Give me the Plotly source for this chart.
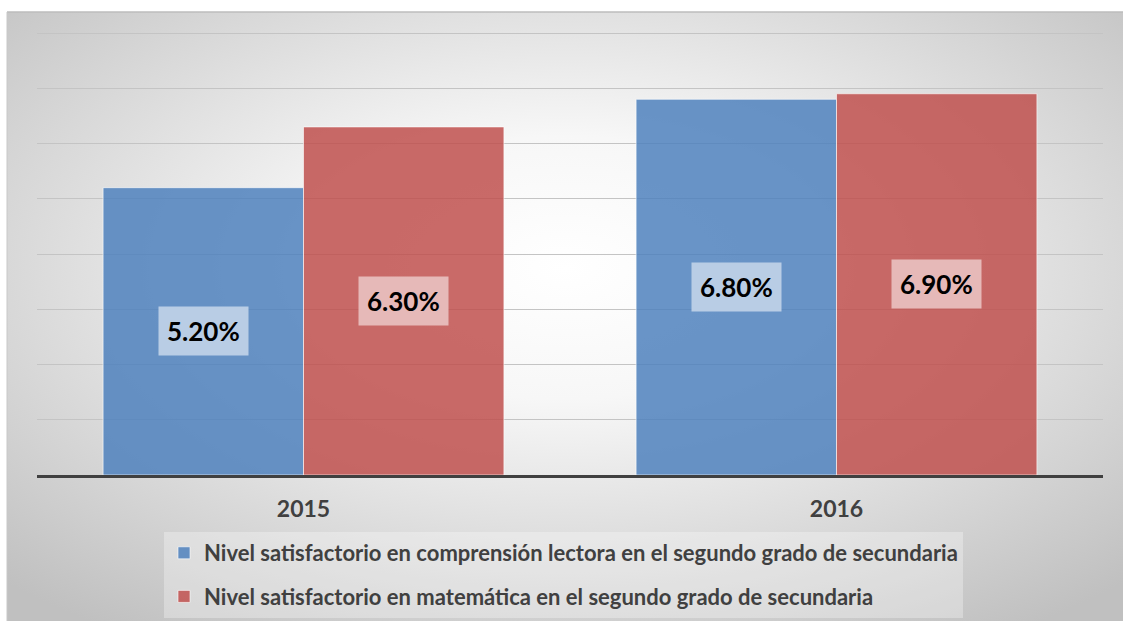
import base64
import plotly.graph_objects as go

# ---- data ----
years = ["2015", "2016"]
series_names = [
    "Nivel satisfactorio en comprensión lectora en el segundo grado de secundaria",
    "Nivel satisfactorio en matemática en el segundo grado de secundaria",
]
lectora = [5.2, 6.8]
matematica = [6.3, 6.9]
label_lectora = ["5.20%", "6.80%"]
label_matematica = ["6.30%", "6.90%"]

# ---- styling ----
W, H = 1123, 621
FONT = "Lato"
BLUE = "rgba(79,129,189,0.85)"
RED = "rgba(192,80,77,0.85)"
BLUE_LBL = "#B9CDE5"
RED_LBL = "#E6B9B8"

Y_MAX = 8.03
x_dom = [37 / W, 1103 / W]
y_dom = [(H - 475) / H, (H - 33 + 0.03 * 55.25) / H]
BARGAP = 0.248

# radial gradient background (chart area)
svg = (
    '<svg xmlns="http://www.w3.org/2000/svg" width="1116" height="609" '
    'viewBox="0 0 100 100" preserveAspectRatio="none">'
    '<defs><radialGradient id="g" cx="0.5" cy="0.42" r="0.72" fx="0.5" fy="0.42">'
    '<stop offset="0" stop-color="#ffffff"/>'
    '<stop offset="0.3" stop-color="#f7f7f7"/>'
    '<stop offset="1" stop-color="#c0c0c0"/>'
    '</radialGradient></defs>'
    '<rect x="0" y="0" width="100" height="100" fill="url(#g)"/></svg>'
)
svg_uri = "data:image/svg+xml;base64," + base64.b64encode(svg.encode()).decode()

fig = go.Figure()
fig.add_trace(go.Bar(
    x=years, y=lectora, name=series_names[0],
    marker=dict(color=BLUE, line=dict(color="rgba(255,255,255,0.6)", width=1)),
    legendgroup="a", hoverinfo="skip",
))
fig.add_trace(go.Bar(
    x=years, y=matematica, name=series_names[1],
    marker=dict(color=RED, line=dict(color="rgba(255,255,255,0.6)", width=1)),
    legendgroup="b", hoverinfo="skip",
))

# data labels with background boxes (x given as category index)
cat_px = (x_dom[1] - x_dom[0]) * W / len(years)
bar_px = cat_px * (1 - BARGAP) / 2
for vals, labels, bg, sign in [(lectora, label_lectora, BLUE_LBL, -1),
                               (matematica, label_matematica, RED_LBL, 1)]:
    for i, (v, t) in enumerate(zip(vals, labels)):
        fig.add_annotation(
            x=i, y=v / 2, text=t, showarrow=False,
            xshift=sign * bar_px / 2,
            font=dict(family=FONT, size=26, color="#000000", weight="bold"),
            bgcolor=bg, borderpad=8,
        )

fig.update_layout(
    width=W, height=H,
    margin=dict(l=0, r=0, t=0, b=0),
    paper_bgcolor="#ffffff",
    plot_bgcolor="rgba(0,0,0,0)",
    barmode="group", bargap=BARGAP, bargroupgap=0,
    showlegend=True,
    legend=dict(
        x=164 / W, y=(H - 532) / H, xanchor="left", yanchor="top",
        bgcolor="rgba(255,255,255,0.3)",
        font=dict(family=FONT, size=22, color="#404040", weight="bold"),
        traceorder="grouped", tracegroupgap=12,
    ),
    xaxis=dict(
        type="category", range=[-0.5, 1.5],
        domain=x_dom, showgrid=False, showline=True, linecolor="#404040", linewidth=3,
        tickfont=dict(family=FONT, size=23, color="#404040", weight="bold"),
        ticks="", ticklabelstandoff=11,
    ),
    yaxis=dict(
        domain=y_dom, range=[0, Y_MAX], dtick=1, showticklabels=False,
        showgrid=True, gridcolor="#c4c4c4", gridwidth=1, zeroline=False,
    ),
    images=[dict(
        source=svg_uri, xref="paper", yref="paper",
        x=7 / W, y=(H - 12) / H, sizex=(W - 7) / W, sizey=(H - 12) / H,
        xanchor="left", yanchor="top", sizing="stretch", layer="below",
    )],
    shapes=[dict(
        type="line", xref="paper", yref="paper",
        x0=7 / W, x1=1, y0=(H - 12) / H, y1=(H - 12) / H,
        line=dict(color="#bdbdbd", width=1.5),
    ), dict(
        type="line", xref="paper", yref="paper",
        x0=7 / W, x1=7 / W, y0=0, y1=(H - 12) / H,
        line=dict(color="#c8c8c8", width=1),
    )],
)

fig.write_html(
    "out.html",
    config={"displayModeBar": False},
    post_script="document.body.style.margin='0';document.body.style.overflow='hidden';",
)
